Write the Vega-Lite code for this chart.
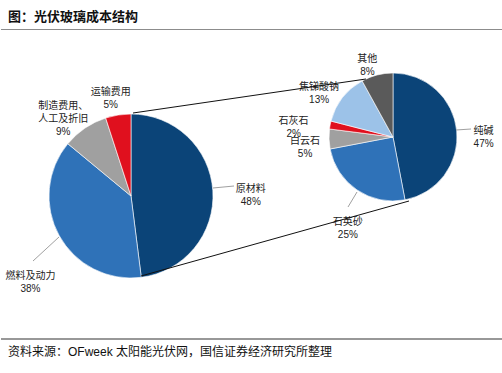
{
  "$schema": "https://vega.github.io/schema/vega-lite/v6.json",
  "width": 502,
  "height": 373,
  "autosize": {"type": "fit", "contains": "padding"},
  "padding": 0,
  "background": "#ffffff",
  "config": {
    "view": {"stroke": null},
    "text": {"font": "Liberation Sans, Noto Sans CJK SC", "fill": "#222222"}
  },
  "datasets": {
    "left": [
      {"name": "原材料", "v": 48, "o": 1},
      {"name": "燃料及动力", "v": 38, "o": 2},
      {"name": "制造费用、\n人工及折旧", "v": 9, "o": 3},
      {"name": "运输费用", "v": 5, "o": 4}
    ],
    "right": [
      {"name": "纯碱", "v": 47, "o": 1},
      {"name": "石英砂", "v": 25, "o": 2},
      {"name": "白云石", "v": 5, "o": 3},
      {"name": "石灰石", "v": 2, "o": 4},
      {"name": "焦锑酸钠", "v": 13, "o": 5},
      {"name": "其他", "v": 8, "o": 6}
    ],
    "blank": [{}]
  },
  "layer": [
    {
      "data": {"name": "left"},
      "mark": {"type": "arc", "x": 130, "y": 196, "outerRadius": 82, "stroke": "#ffffff", "strokeWidth": 0.6},
      "encoding": {
        "theta": {"field": "v", "type": "quantitative", "stack": true, "scale": {"domain": [0, 100]}},
        "order": {"field": "o", "type": "quantitative"},
        "color": {
          "field": "name", "type": "nominal", "legend": null,
          "scale": {
            "domain": ["原材料", "燃料及动力", "制造费用、\n人工及折旧", "运输费用", "纯碱", "石英砂", "白云石", "石灰石", "焦锑酸钠", "其他"],
            "range": ["#0b4478", "#2f72b8", "#a0a0a0", "#e0101e", "#0b4478", "#2f72b8", "#a0a0a0", "#e0101e", "#9cc2e8", "#5a5a5a"]
          }
        }
      }
    },
    {
      "data": {"name": "right"},
      "mark": {"type": "arc", "x": 392, "y": 137, "outerRadius": 64, "stroke": "#ffffff", "strokeWidth": 0.6},
      "encoding": {
        "theta": {"field": "v", "type": "quantitative", "stack": true, "scale": {"domain": [0, 100]}},
        "order": {"field": "o", "type": "quantitative"},
        "color": {"field": "name", "type": "nominal", "legend": null}
      }
    },
    {
      "data": {"name": "left"},
      "transform": [
        {"stack": "v", "groupby": [], "sort": [{"field": "o", "order": "ascending"}], "as": ["s0", "s1"]},
        {"calculate": "(datum.s0 + datum.s1) / 2", "as": "mid"},
        {"calculate": "datum.name + '\\n' + datum.v + '%'", "as": "label"}
      ],
      "encoding": {
        "theta": {"field": "mid", "type": "quantitative", "stack": null, "scale": {"domain": [0, 100]}},
        "text": {"field": "label"}
      },
      "layer": [
        {"transform": [{"filter": "datum.o == 1"}], "mark": {"type": "text", "x": 130, "y": 196, "radius": 117, "dx": 3, "dy": 0, "lineBreak": "\n", "lineHeight": 13, "fontSize": 10, "baseline": "middle"}},
        {"transform": [{"filter": "datum.o == 2"}], "mark": {"type": "text", "x": 130, "y": 196, "radius": 117, "dx": 2, "dy": 24, "lineBreak": "\n", "lineHeight": 13, "fontSize": 10, "baseline": "middle"}},
        {"transform": [{"filter": "datum.o == 3"}], "mark": {"type": "text", "x": 130, "y": 196, "radius": 117, "dx": -2, "dy": 7, "lineBreak": "\n", "lineHeight": 13, "fontSize": 10, "baseline": "middle"}},
        {"transform": [{"filter": "datum.o == 4"}], "mark": {"type": "text", "x": 130, "y": 196, "radius": 117, "dx": -2, "dy": 12, "lineBreak": "\n", "lineHeight": 13, "fontSize": 10, "baseline": "middle"}}
      ]
    },
    {
      "data": {"name": "right"},
      "transform": [
        {"stack": "v", "groupby": [], "sort": [{"field": "o", "order": "ascending"}], "as": ["s0", "s1"]},
        {"calculate": "(datum.s0 + datum.s1) / 2", "as": "mid"},
        {"calculate": "datum.name + '\\n' + datum.v + '%'", "as": "label"}
      ],
      "encoding": {
        "theta": {"field": "mid", "type": "quantitative", "stack": null, "scale": {"domain": [0, 100]}},
        "text": {"field": "label"}
      },
      "layer": [
        {"transform": [{"filter": "datum.o == 1"}], "mark": {"type": "text", "x": 392, "y": 137, "radius": 91, "dx": 0, "dy": 3, "lineBreak": "\n", "lineHeight": 13, "fontSize": 10, "baseline": "middle"}},
        {"transform": [{"filter": "datum.o == 2"}], "mark": {"type": "text", "x": 392, "y": 137, "radius": 91, "dx": 6, "dy": 10, "lineBreak": "\n", "lineHeight": 13, "fontSize": 10, "baseline": "middle"}},
        {"transform": [{"filter": "datum.o == 3"}], "mark": {"type": "text", "x": 392, "y": 137, "radius": 91, "dx": 3, "dy": 1, "lineBreak": "\n", "lineHeight": 13, "fontSize": 10, "baseline": "middle"}},
        {"transform": [{"filter": "datum.o == 4"}], "mark": {"type": "text", "x": 392, "y": 137, "radius": 91, "dx": -10, "dy": 1, "lineBreak": "\n", "lineHeight": 13, "fontSize": 10, "baseline": "middle"}},
        {"transform": [{"filter": "datum.o == 5"}], "mark": {"type": "text", "x": 392, "y": 137, "radius": 91, "dx": -2, "dy": 6, "lineBreak": "\n", "lineHeight": 13, "fontSize": 10, "baseline": "middle"}},
        {"transform": [{"filter": "datum.o == 6"}], "mark": {"type": "text", "x": 392, "y": 137, "radius": 91, "dx": -3, "dy": 10, "lineBreak": "\n", "lineHeight": 13, "fontSize": 10, "baseline": "middle"}}
      ]
    },
    {
      "data": {"name": "blank"},
      "layer": [
        {"mark": {"type": "text", "x": 7, "y": 17, "text": "图：光伏玻璃成本结构", "align": "left", "baseline": "middle", "fontSize": 13, "fontWeight": "bold", "fill": "#111111"}, "encoding": {}},
        {"mark": {"type": "rule", "stroke": "#8c8c8c", "strokeWidth": 1}, "encoding": {"x": {"value": 0}, "x2": {"value": 502}, "y": {"value": 29.5}, "y2": {"value": 29.5}}},
        {"mark": {"type": "rule", "stroke": "#333333", "strokeWidth": 1.2}, "encoding": {"x": {"value": 0}, "x2": {"value": 502}, "y": {"value": 339}, "y2": {"value": 339}}},
        {"mark": {"type": "text", "x": 7, "y": 352, "text": "资料来源：OFweek 太阳能光伏网，国信证券经济研究所整理", "align": "left", "baseline": "middle", "fontSize": 12, "fill": "#111111"}, "encoding": {}},
        {"mark": {"type": "rule", "stroke": "#111111", "strokeWidth": 1}, "encoding": {"x": {"value": 132}, "y": {"value": 113}, "x2": {"value": 365}, "y2": {"value": 79}}},
        {"mark": {"type": "rule", "stroke": "#111111", "strokeWidth": 1}, "encoding": {"x": {"value": 140}, "y": {"value": 276}, "x2": {"value": 408}, "y2": {"value": 201}}},
        {"mark": {"type": "rule", "stroke": "#a0a0a0", "strokeWidth": 1}, "encoding": {"x": {"value": 212}, "y": {"value": 188}, "x2": {"value": 233}, "y2": {"value": 186}}},
        {"mark": {"type": "rule", "stroke": "#a0a0a0", "strokeWidth": 1}, "encoding": {"x": {"value": 58}, "y": {"value": 237}, "x2": {"value": 32}, "y2": {"value": 261}}},
        {"mark": {"type": "rule", "stroke": "#a0a0a0", "strokeWidth": 1}, "encoding": {"x": {"value": 455}, "y": {"value": 130}, "x2": {"value": 470}, "y2": {"value": 129}}},
        {"mark": {"type": "rule", "stroke": "#a0a0a0", "strokeWidth": 1}, "encoding": {"x": {"value": 356}, "y": {"value": 192}, "x2": {"value": 347}, "y2": {"value": 207}}}
      ]
    }
  ],
  "resolve": {"scale": {"theta": "independent"}}
}
